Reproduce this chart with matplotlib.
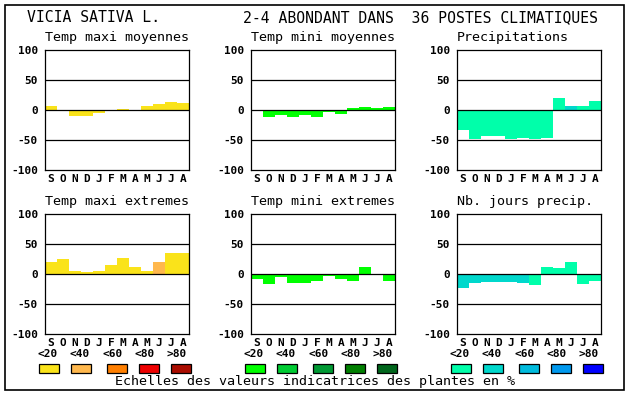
import matplotlib.pyplot as plt
from matplotlib.patches import Rectangle

W, H = 630, 394
months = ['S', 'O', 'N', 'D', 'J', 'F', 'M', 'A', 'M', 'J', 'J', 'A']
classes = ['<20', '<40', '<60', '<80', '>80']

titles = ['Temp maxi moyennes', 'Temp mini moyennes', 'Precipitations',
          'Temp maxi extremes', 'Temp mini extremes', 'Nb. jours precip.']

tmax_moy = [7, -2, -10, -10, -5, -2, 2, 0, 7, 10, 14, 12]
tmin_moy = [-2, -12, -8, -11, -8, -11, -4, -6, 4, 5, 4, 5]
precip = [-33, -49, -43, -44, -48, -46, -49, -46, 20, 7, 7, 15]
tmax_ext = [20, 25, 5, 3, 5, 15, 27, 12, 5, 20, 35, 35]
tmin_ext = [-8, -17, -5, -15, -15, -11, -3, -8, -11, 12, 0, -11]
nb_jours = [-23, -15, -13, -13, -13, -15, -18, 12, 10, 20, -17, -12]

# colour class (0..4) of each bar
cls_tmax_moy = [0] * 12
cls_tmin_moy = [0] * 12
cls_precip = [0, 0, 0, 0, 0, 0, 0, 0, 0, 1, 0, 0]
cls_tmax_ext = [0, 0, 0, 0, 0, 0, 0, 0, 0, 1, 0, 0]
cls_tmin_ext = [0] * 12
cls_nb_jours = [1, 1, 1, 1, 1, 1, 0, 0, 0, 0, 0, 0]

yellows = ['#fae31a', '#ffb84d', '#ff7f00', '#ee0000', '#aa0c00']
greens = ['#00ff00', '#00cc33', '#009933', '#007f00', '#00661c']
blues = ['#00ffaa', '#00d8cc', '#00bbdd', '#0099ee', '#0000ff']

series = [tmax_moy, tmin_moy, precip, tmax_ext, tmin_ext, nb_jours]
series_cls = [cls_tmax_moy, cls_tmin_moy, cls_precip,
              cls_tmax_ext, cls_tmin_ext, cls_nb_jours]
palettes = [yellows, greens, blues, yellows, greens, blues]

mono = 'DejaVu Sans Mono'

fig = plt.figure(figsize=(W / 100, H / 100), dpi=100)


def fx(x):
    return x / W


def fy(y):
    return 1 - y / H


# outer frame
fig.patches.append(Rectangle((fx(5), fy(390)), fx(619), (385) / H,
                             transform=fig.transFigure, fill=False,
                             edgecolor='black', linewidth=1.2))

fig.text(fx(27), fy(18), 'VICIA SATIVA L.', family=mono, fontsize=10.6,
         va='center', ha='left')
fig.text(fx(243), fy(18), '2-4 ABONDANT DANS  36 POSTES CLIMATIQUES',
         family=mono, fontsize=10.6, va='center', ha='left')

lefts = [45, 251, 457]
tops = [50, 214]

for k in range(6):
    left = lefts[k % 3]
    top = tops[k // 3]
    ax = fig.add_axes([fx(left), fy(top + 120), 144 / W, 120 / H])
    vals = series[k]
    cols = [palettes[k][c] for c in series_cls[k]]
    ax.bar(range(12), vals, width=1, align='edge', color=cols, zorder=1)
    for yv in (-50, 0, 50):
        ax.axhline(yv, color='black', linewidth=0.9, zorder=3)
    ax.set_xlim(0, 12)
    ax.set_ylim(-100, 100)
    ax.set_yticks([-100, -50, 0, 50, 100])
    ax.set_yticklabels(['-100', '-50', '0', '50', '100'],
                       family=mono, fontsize=8, fontweight='bold')
    ax.set_xticks([i + 0.5 for i in range(12)])
    ax.set_xticklabels(months, family=mono, fontsize=8, fontweight='bold')
    ax.tick_params(length=0, pad=3)
    ax.tick_params(axis='y', pad=5)
    for s in ax.spines.values():
        s.set_linewidth(0.9)
    fig.text(fx(left), fy(top - 12), titles[k], family=mono, fontsize=9.6,
             va='center', ha='left')

    # legend for bottom row
    if k >= 3:
        offs = [4, 36, 72, 104, 136]
        loffs = [3, 35, 68, 100, 132]
        for j in range(5):
            fig.text(fx(left + loffs[j]), fy(354), classes[j], family=mono,
                     fontsize=8, fontweight='bold', ha='center', va='center')
            fig.patches.append(Rectangle((fx(left + offs[j] - 10), fy(373)),
                                         20 / W, 9 / H,
                                         transform=fig.transFigure,
                                         facecolor=palettes[k][j],
                                         edgecolor='black', linewidth=0.9))

fig.text(fx(315), fy(382), 'Echelles des valeurs indicatrices des plantes en %',
         family=mono, fontsize=9.6, ha='center', va='center')

fig.savefig('out.png', dpi=100)
